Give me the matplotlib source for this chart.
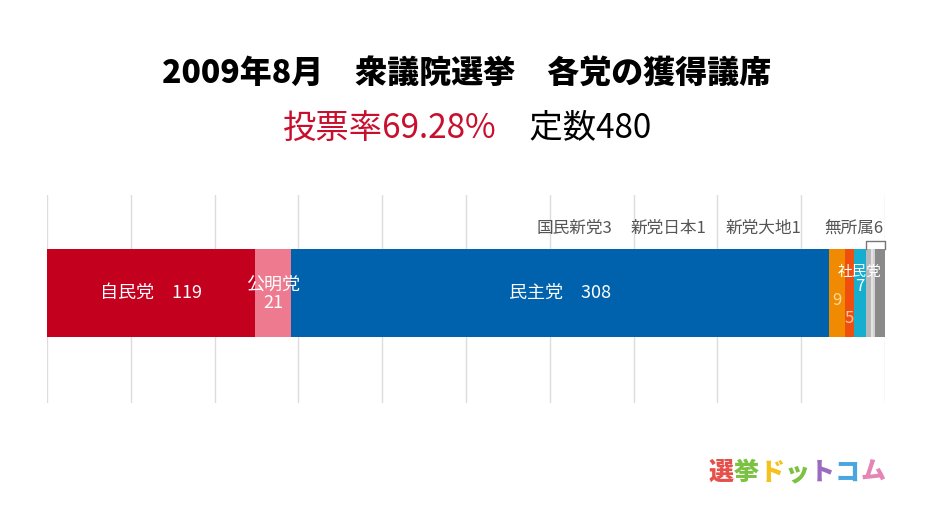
import matplotlib.pyplot as plt
import numpy as np

plt.rcParams['font.family'] = ['Noto Sans CJK JP', 'DejaVu Sans']

# %% Data

parties = ['自民党', '公明党', '民主党', '共産党', 'みんなの党', '社民党',
           '国民新党', '新党日本', '新党大地', '無所属']
seats = [119, 21, 308, 9, 5, 7, 3, 1, 1, 6]
colors = ['#c4001f', '#ee7a90', '#0062ad', '#f08a00', '#f04e0f', '#16aecf',
          '#b8b8b8', '#e4e4e4', '#d2d2d2', '#8a8a8a']
total = 480
turnout = '69.28%'

# labels drawn above the bar (small parties)
topLabels = ['国民新党3', '新党日本1', '新党大地1', '無所属6']

# %% Figure

fig = plt.figure(figsize=(9.34, 5.11), dpi=100)
ax = fig.add_axes([47/934, 1-403/511, 838/934, 208/511])
ax.set_xlim(0, total)
ax.set_ylim(0, 1)
ax.axis('off')

for g in np.arange(0, total+1, 48):
    ax.axvline(g, color='#dcdcdc', lw=1, zorder=0)

left = np.concatenate([[0], np.cumsum(seats)[:-1]])
barY, barH = 0.5285, 0.423
ax.barh(barY, seats, left=left, height=barH, color=colors, edgecolor='none', zorder=2)

mid = left + np.array(seats)/2
lab = dict(color='white', fontsize=13, ha='center', va='center', zorder=3)
ax.text(mid[0], 0.529, '自民党　' + str(seats[0]), **lab)
ax.text(mid[1], 0.570, '公明党', **lab)
ax.text(mid[1], 0.480, str(seats[1]), **lab)
ax.text(mid[2], 0.529, '民主党　' + str(seats[2]), **lab)
ax.text(mid[3], 0.495, str(seats[3]), color='#ffd9a0', fontsize=12, ha='center', va='center', zorder=3)
ax.text(mid[4], 0.408, str(seats[4]), color='#ffc8a0', fontsize=12, ha='center', va='center', zorder=3)
ax.text(mid[5], 0.632, '社民党', color='white', fontsize=10.5, ha='center', va='center', zorder=3)
ax.text(mid[5], 0.560, str(seats[5]), color='white', fontsize=12, ha='center', va='center', zorder=3)

# bracket over the small parties
x0, x1 = left[6], total
yb = 0.778
ax.plot([x0, x0, x1, x1], [barY+barH/2, yb, yb, barY+barH/2], color='#777777', lw=1, zorder=3,
        clip_on=False)

# labels above
for t, xr in zip(topLabels, [323.5, 377.5, 432, 479]):
    ax.text(xr, 0.841, t, color='#555555', fontsize=12, ha='right', va='center')

# %% Titles

fig.text(0.5, 1-73/511, '2009年8月　衆議院選挙　各党の獲得議席', fontsize=23,
         fontweight='black', ha='center', va='center')
t1 = fig.text(0.5, 1-128/511, '投票率' + turnout, fontsize=24, color='#c8102e',
              ha='right', va='center')
t2 = fig.text(0.5, 1-128/511, '　定数' + str(total), fontsize=24, color='black',
              ha='left', va='center')

# shift subtitle to be centred overall
fig.canvas.draw()
r = fig.canvas.get_renderer()
w1 = t1.get_window_extent(r).width
w2 = t2.get_window_extent(r).width
shift = (w1 - w2)/2/fig.bbox.width
t1.set_x(0.5 + shift)
t2.set_x(0.5 + shift)

# logo
logoChars = ['選', '挙', 'ド', 'ッ', 'ト', 'コ', 'ム']
logoColors = ['#e5504a', '#7cc242', '#f5c21b', '#7cc242', '#9c6ac0', '#4aa6e0', '#e585b5']
for i, (c, col) in enumerate(zip(logoChars, logoColors)):
    fig.text((721 + 25.3*i)/934, 1-472/511, c, fontsize=18, fontweight='black', color=col,
             ha='center', va='center')

fig.savefig('out.png', dpi=100)
